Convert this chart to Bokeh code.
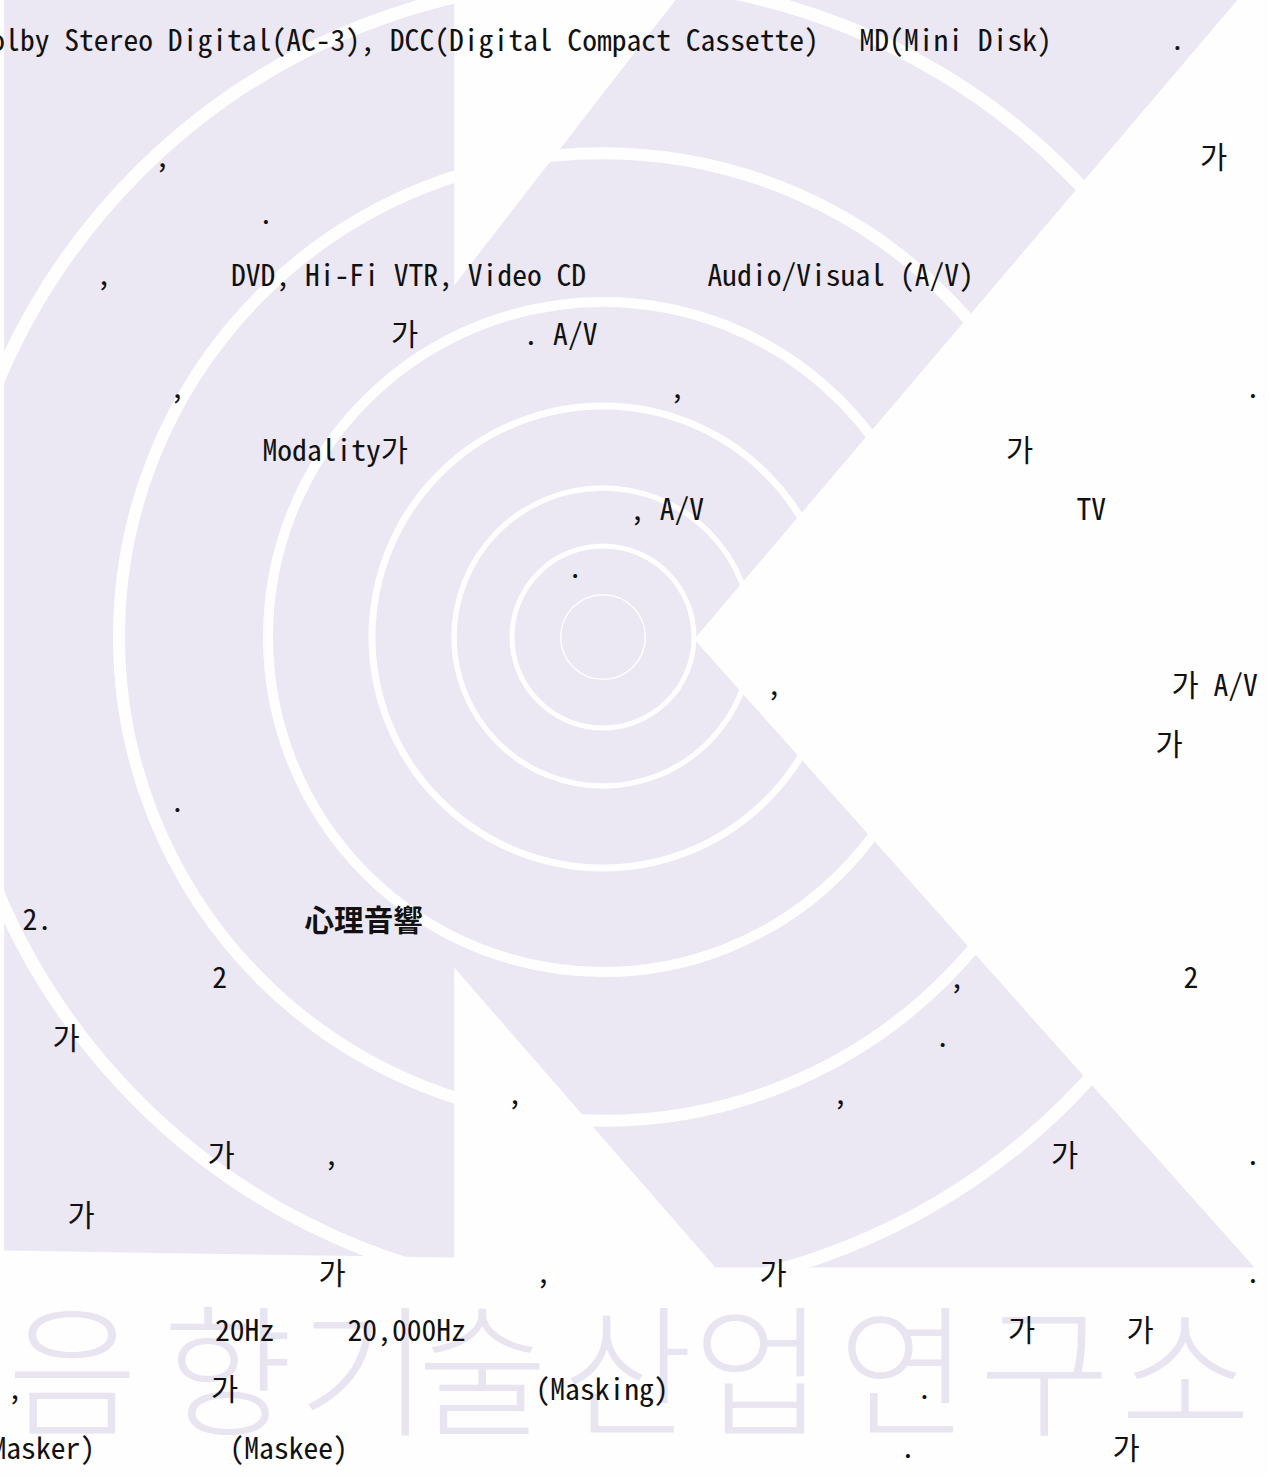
from bokeh.plotting import figure
from bokeh.models import Range1d, ColumnDataSource
from bokeh.core.properties import value
from bokeh.embed import file_html
from bokeh.resources import INLINE

# ---- page frame (reference page pixels) ----
PAGE_W, PAGE_H, MARGIN = 1277, 1484, 8

# ---- "K" watermark outline (single polygon) ----
k_x = [11.7, 461.7, 461.7, 685, 1247, 701.7, 1262, 723, 461.7, 461.7, 11.7]
k_y = [-2, -2, 293, 5, 5, 646.7, 1275, 1275, 975, 1265, 1258]

# ---- concentric rings ----
ring_cx = 610.5
ring_cy = 644.5
ring_r = [42.3, 91, 149, 231, 335, 484, 657]
ring_w = [1.5, 5, 5.5, 7, 10, 12, 13]

# ---- bottom watermark text ----
wm_chars = ["음", "향", "기", "술", "산", "업", "연", "구", "소"]
wm_cx = [80, 235, 371, 490, 635, 766, 911, 1052, 1193]
wm_base = 1370

# ---- body text fragments: (baseline, left, text) ----
frag_base = [
    46, 46, 46,
    163, 163,
    220,
    281, 281, 281,
    340, 340,
    394, 394, 394,
    456, 456,
    514.5, 514.5,
    574,
    691, 691,
    750,
    808,
    926,
    984, 984, 984,
    1043.5, 1043.5,
    1100, 1100,
    1161, 1161, 1161, 1161,
    1221,
    1279, 1279, 1279, 1279,
    1336, 1336, 1336, 1336,
    1395, 1395, 1395, 1395,
    1454, 1454, 1454, 1454,
]
frag_left = [
    -17, 867, 1177.6,
    162.6, 1207.5,
    266,
    104, 238.5, 715,
    398.5, 531,
    177.6, 677.6, 1253,
    270, 1013.5,
    637.6, 1084,
    575.3,
    774.3, 1179,
    1163,
    177.6,
    30,
    219.7, 957, 1191,
    60, 942.8,
    515, 840.6,
    215, 331.4, 1058.5, 1253,
    75,
    326, 543.6, 767, 1253,
    222.5, 355, 1015.6, 1134,
    15, 218.5, 543, 924.4,
    -15.8, 237, 908, 1120,
]
frag_text = [
    "Dolby Stereo Digital(AC-3), DCC(Digital Compact Cassette)", "MD(Mini Disk)", ".",
    ",", "가",
    ".",
    ",", "DVD, Hi-Fi VTR, Video CD", "Audio/Visual (A/V)",
    "가", ". A/V",
    ",", ",", ".",
    "Modality가", "가",
    ", A/V", "TV",
    ".",
    ",", "가 A/V",
    "가",
    ".",
    "2.",
    "2", ",", "2",
    "가", ".",
    ",", ",",
    "가", ",", "가", ".",
    "가",
    "가", ",", "가", ".",
    "20Hz", "20,000Hz", "가", "가",
    ",", "가", "(Masking)", ".",
    "(Masker)", "(Maskee)", ".", "가",
]

head_text = ["心理音響"]
head_left = [312]
head_base = [926]

# ---- colours ----
PAPER = "#FEFEFE"
LAVENDER = "#EBE7F3"
WM_TEXT = "#E8E4F0"
INK = "#111111"

p = figure(
    width=PAGE_W, height=PAGE_H,
    x_range=Range1d(0, PAGE_W),
    y_range=Range1d(PAGE_H, 0),
    output_backend="svg", toolbar_location=None,
    min_border=0, min_border_left=0, min_border_right=0,
    min_border_top=0, min_border_bottom=0,
)
# cancel the page's 8px body margin so the figure covers the whole window
p.styles = {"margin": f"-{MARGIN}px"}
p.axis.visible = False
p.grid.visible = False
p.outline_line_color = None
p.background_fill_color = PAPER
p.border_fill_color = PAPER

# K shape
p.patch(k_x, k_y, fill_color=LAVENDER, line_color=None)

# white rings
ring_src = ColumnDataSource(dict(
    x=[ring_cx] * len(ring_r), y=[ring_cy] * len(ring_r), r=ring_r, w=ring_w))
p.circle(x="x", y="y", radius="r", line_width="w", source=ring_src,
         fill_color=None, line_color=PAPER)

# bottom watermark lettering
wm_src = ColumnDataSource(dict(x=wm_cx, y=[wm_base] * len(wm_chars), t=wm_chars))
p.text(x="x", y="y", text="t", source=wm_src,
       text_font=value("'Noto Sans CJK KR Light', 'Noto Sans CJK KR'"),
       text_font_size="142px",
       text_align="center", text_baseline="alphabetic", text_color=WM_TEXT)

# body text
body_src = ColumnDataSource(dict(x=frag_left, y=frag_base, t=frag_text))
p.text(x="x", y="y", text="t", source=body_src,
       text_font=value("Noto Sans Mono CJK KR"), text_font_size="29.6px",
       text_align="left", text_baseline="alphabetic", text_color=INK)

head_src = ColumnDataSource(dict(x=head_left, y=head_base, t=head_text))
p.text(x="x", y="y", text="t", source=head_src,
       text_font=value("Noto Sans CJK KR"), text_font_size="29.6px",
       text_font_style="bold",
       text_align="left", text_baseline="alphabetic", text_color=INK)

open("out.html", "w").write(file_html(p, INLINE))
